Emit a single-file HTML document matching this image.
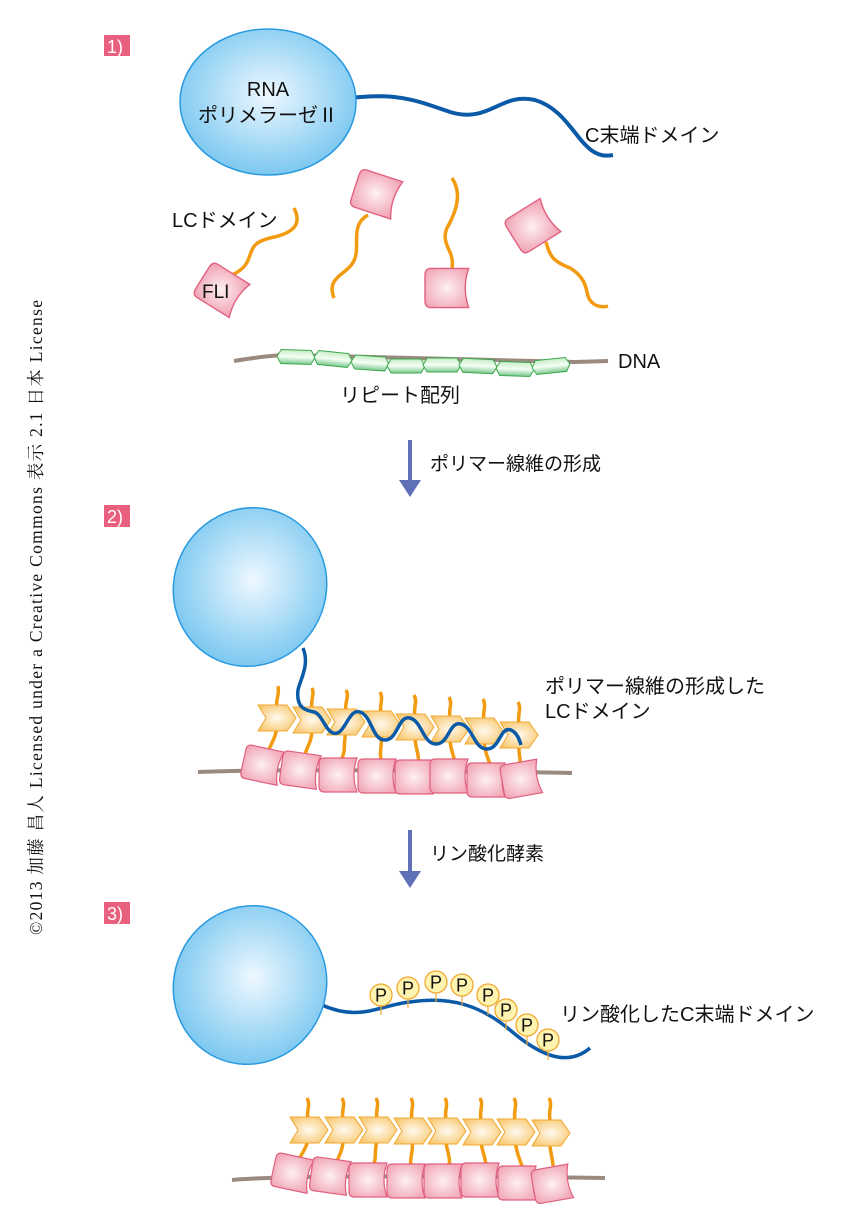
<!DOCTYPE html>
<html><head><meta charset="utf-8"><style>
body{margin:0;background:#fff}
svg{display:block}
text{font-family:"Liberation Sans","Noto Sans CJK JP",sans-serif;font-size:19px;fill:#111}
</style></head><body>
<svg width="852" height="1227" viewBox="0 0 852 1227" xmlns="http://www.w3.org/2000/svg">
<defs>
<radialGradient id="gb" cx="0.5" cy="0.45" r="0.55"><stop offset="0" stop-color="#eef8ff"/><stop offset="1" stop-color="#7cc8f0"/></radialGradient>
<radialGradient id="gp" cx="0.5" cy="0.5" r="0.6"><stop offset="0" stop-color="#fdf0f3"/><stop offset="1" stop-color="#f2a8b8"/></radialGradient>
<radialGradient id="go" cx="0.5" cy="0.5" r="0.6"><stop offset="0" stop-color="#fffaf0"/><stop offset="1" stop-color="#f8c870"/></radialGradient>
<linearGradient id="gg" x1="0" y1="0" x2="0" y2="1"><stop offset="0" stop-color="#c8ecc8"/><stop offset="0.5" stop-color="#f4fff4"/><stop offset="1" stop-color="#7cc890"/></linearGradient>
<g id="pk"><path d="M-15,-17 L18,-17 Q12,0 18,17 L-15,17 Q-20,17 -20,11 L-20,-11 Q-20,-17 -15,-17 Z" fill="url(#gp)" stroke="#e0607e" stroke-width="1.2"/></g>
<g id="ch"><path d="M-18,-13 L11,-13 L20,0 L11,13 L-18,13 L-10,0 Z" fill="url(#go)" stroke="#f0a830" stroke-width="1"/></g>
<g id="ds"><path d="M-19,0 L-15,-7 L15,-7 L19,0 L15,7 L-15,7 Z" fill="url(#gg)" stroke="#3aa84a" stroke-width="1"/></g>
<g id="pp"><line x1="0" y1="10" x2="0" y2="20" stroke="#f0a830" stroke-width="1.2"/><circle r="11" fill="#fff3b0" stroke="#f0a830" stroke-width="1.3"/><text x="0" y="6.5" text-anchor="middle" style="font-size:18px">P</text></g>
</defs>

<text transform="translate(42,935) rotate(-90)" style="font-family:'Liberation Serif','Noto Serif CJK SC',serif;font-size:17.5px" textLength="635">©2013 加藤 昌人 Licensed under a Creative Commons 表示 2.1 日本 License</text>

<rect x="104" y="35" width="26" height="21" fill="#e8607e"/><text x="107" y="53" style="fill:#fff;font-size:18px">1)</text>
<rect x="104" y="505" width="26" height="22" fill="#e8607e"/><text x="107" y="523" style="fill:#fff;font-size:18px">2)</text>
<rect x="104" y="902" width="26" height="22" fill="#e8607e"/><text x="107" y="920" style="fill:#fff;font-size:18px">3)</text>

<!-- Panel 1 -->
<path d="M350,98 C400,92 420,102 450,112 C490,124 500,92 535,100 C575,112 580,162 613,155" fill="none" stroke="#0a5aa8" stroke-width="4"/>
<ellipse cx="268" cy="102" rx="88" ry="73" fill="url(#gb)" stroke="#2a9ae0" stroke-width="1.5"/>
<text x="268" y="96" text-anchor="middle" style="font-size:20px">RNA</text>
<text x="268" y="122" text-anchor="middle" style="font-size:20px">ポリメラーゼⅡ</text>
<text x="585" y="142" style="font-size:20px">C末端ドメイン</text>
<text x="172" y="227" style="font-size:20px">LCドメイン</text>

<g fill="none" stroke="#f29a10" stroke-width="3.5">
<path d="M232,275 C260,262 240,245 270,238 C300,232 300,220 294,208"/>
<path d="M368,215 C350,225 360,245 355,258 C350,275 325,275 334,298"/>
<path d="M452,268 C455,250 440,245 447,228 C460,205 460,190 452,178"/>
<path d="M546,242 C550,258 555,262 570,268 C590,280 585,295 590,300 C595,308 605,307 608,306"/>
</g>
<use href="#pk" transform="translate(222,290) rotate(32) scale(1.15)"/>
<text x="202" y="298" style="font-size:19px">FLI</text>
<use href="#pk" transform="translate(377,194) rotate(18) scale(1.15)"/>
<use href="#pk" transform="translate(448,288) scale(1.15)"/>
<use href="#pk" transform="translate(533,226) rotate(-32) scale(1.15)"/>

<path d="M234,361 Q270,355 290,355 L575,362 L608,361" fill="none" stroke="#9a8a80" stroke-width="4"/>
<use href="#ds" transform="translate(296,357) rotate(2)"/>
<use href="#ds" transform="translate(333,359) rotate(6)"/>
<use href="#ds" transform="translate(370,363) rotate(4)"/>
<use href="#ds" transform="translate(406,366)"/>
<use href="#ds" transform="translate(442,365)"/>
<use href="#ds" transform="translate(478,366) rotate(3)"/>
<use href="#ds" transform="translate(515,369) rotate(2)"/>
<use href="#ds" transform="translate(551,366) rotate(-6)"/>
<text x="340" y="402" style="font-size:20px">リピート配列</text>
<text x="618" y="368" style="font-size:20px">DNA</text>

<line x1="410" y1="440" x2="410" y2="482" stroke="#6070b8" stroke-width="4"/>
<polygon points="399,480 421,480 410,497" fill="#6070b8"/>
<text x="430" y="470">ポリマー線維の形成</text>

<!-- Panel 2 -->
<ellipse cx="250" cy="587" rx="76" ry="80" transform="rotate(25 250 587)" fill="url(#gb)" stroke="#2a9ae0" stroke-width="1.5"/>
<g fill="none" stroke="#f29a10" stroke-width="3.5">
<path d="M277,708 C275,700 280,695 278,686"/><path d="M312,710 C310,700 315,695 312,688"/><path d="M346,712 C344,702 350,697 346,690"/><path d="M381,714 C379,704 384,699 380,692"/><path d="M415,717 C413,707 418,702 414,695"/><path d="M450,719 C448,709 453,704 449,697"/><path d="M484,721 C482,711 487,706 483,699"/><path d="M519,724 C517,714 522,709 518,702"/>
<path d="M277,728 C275,740 270,745 268,752"/><path d="M312,730 C312,742 306,748 305,755"/><path d="M346,732 C343,744 346,750 342,758"/><path d="M381,734 C383,746 378,752 382,762"/><path d="M415,737 C415,748 420,755 418,765"/><path d="M450,739 C450,750 455,757 456,768"/><path d="M484,741 C485,752 488,760 493,770"/><path d="M519,744 C518,754 522,762 520,772"/>
</g>
<path d="M198,772 Q300,768 572,773" fill="none" stroke="#9a8a80" stroke-width="4"/>
<use href="#pk" transform="translate(263,765) rotate(12)"/>
<use href="#pk" transform="translate(301,770) rotate(8)"/>
<use href="#pk" transform="translate(339,775)"/>
<use href="#pk" transform="translate(378,776)"/>
<use href="#pk" transform="translate(415,777)"/>
<use href="#pk" transform="translate(450,776)"/>
<use href="#pk" transform="translate(487,780)"/>
<use href="#pk" transform="translate(522,779) rotate(-10)"/>
<use href="#ch" transform="translate(276,718)"/>
<use href="#ch" transform="translate(311,720)"/>
<use href="#ch" transform="translate(345,722)"/>
<use href="#ch" transform="translate(380,724)"/>
<use href="#ch" transform="translate(414,727)"/>
<use href="#ch" transform="translate(449,729)"/>
<use href="#ch" transform="translate(483,731)"/>
<use href="#ch" transform="translate(518,735)"/>
<path d="M303,648 C310,665 300,680 298,690 C296,708 305,710 314,712 C322,714 325,730 333,733 C345,737 348,708 360,712 C372,716 372,740 385,740 C398,740 398,715 410,718 C422,721 423,744 436,744 C449,744 449,721 461,724 C473,727 474,749 487,749 C500,749 500,726 511,730 C518,733 520,742 521,745" fill="none" stroke="#0a5aa8" stroke-width="3.5"/>
<text x="545" y="693" style="font-size:20px">ポリマー線維の形成した</text>
<text x="545" y="718" style="font-size:20px">LCドメイン</text>

<line x1="410" y1="830" x2="410" y2="873" stroke="#6070b8" stroke-width="4"/>
<polygon points="399,871 421,871 410,888" fill="#6070b8"/>
<text x="430" y="860">リン酸化酵素</text>

<!-- Panel 3 -->
<path d="M322,1005 C360,1022 380,1005 410,1002 C450,996 480,1005 510,1030 C545,1060 570,1065 590,1048" fill="none" stroke="#0a5aa8" stroke-width="3.5"/>
<ellipse cx="250" cy="985" rx="76" ry="80" transform="rotate(25 250 985)" fill="url(#gb)" stroke="#2a9ae0" stroke-width="1.5"/>
<use href="#pp" transform="translate(381,995)"/>
<use href="#pp" transform="translate(408,988)"/>
<use href="#pp" transform="translate(436,982)"/>
<use href="#pp" transform="translate(462,985)"/>
<use href="#pp" transform="translate(488,995)"/>
<use href="#pp" transform="translate(506,1010)"/>
<use href="#pp" transform="translate(527,1025)"/>
<use href="#pp" transform="translate(548,1040)"/>
<text x="560" y="1021" style="font-size:20px">リン酸化したC末端ドメイン</text>

<g fill="none" stroke="#f29a10" stroke-width="3.5">
<path d="M308,1120 C306,1110 311,1105 307,1098"/><path d="M343,1120 C341,1110 346,1105 342,1098"/><path d="M377,1120 C375,1110 380,1105 376,1098"/><path d="M412,1120 C410,1110 415,1105 411,1098"/><path d="M446,1120 C444,1110 449,1105 445,1098"/><path d="M481,1120 C479,1110 484,1105 480,1098"/><path d="M515,1120 C513,1110 518,1105 514,1098"/><path d="M550,1120 C548,1110 553,1105 549,1098"/>
<path d="M308,1140 C306,1150 300,1155 298,1162"/><path d="M343,1140 C343,1152 337,1158 336,1165"/><path d="M377,1140 C374,1152 377,1158 373,1166"/><path d="M412,1140 C414,1152 409,1158 411,1166"/><path d="M446,1140 C446,1150 451,1157 449,1166"/><path d="M481,1140 C481,1150 486,1157 486,1166"/><path d="M515,1140 C516,1150 519,1158 522,1166"/><path d="M550,1140 C549,1150 553,1158 553,1166"/>
</g>
<path d="M232,1180 Q300,1174 605,1178" fill="none" stroke="#9a8a80" stroke-width="4"/>
<use href="#pk" transform="translate(293,1173) rotate(12)"/>
<use href="#pk" transform="translate(331,1176) rotate(8)"/>
<use href="#pk" transform="translate(369,1180)"/>
<use href="#pk" transform="translate(407,1181)"/>
<use href="#pk" transform="translate(444,1181)"/>
<use href="#pk" transform="translate(481,1180)"/>
<use href="#pk" transform="translate(518,1183)"/>
<use href="#pk" transform="translate(553,1184) rotate(-10)"/>
<use href="#ch" transform="translate(308,1130)"/>
<use href="#ch" transform="translate(343,1130)"/>
<use href="#ch" transform="translate(377,1130)"/>
<use href="#ch" transform="translate(412,1131)"/>
<use href="#ch" transform="translate(446,1131)"/>
<use href="#ch" transform="translate(481,1132)"/>
<use href="#ch" transform="translate(515,1132)"/>
<use href="#ch" transform="translate(550,1133)"/>
</svg>
</body></html>
